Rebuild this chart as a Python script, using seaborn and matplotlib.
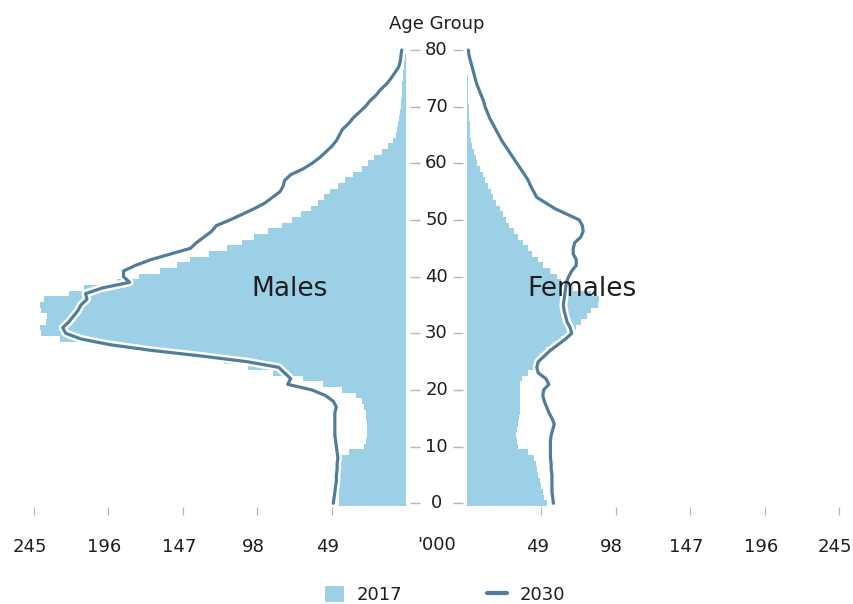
import numpy as np
import pandas as pd
import matplotlib
matplotlib.use("Agg")
import matplotlib.pyplot as plt
import matplotlib.patheffects as pe
import matplotlib.transforms as mtrans
from matplotlib.patches import Patch
from matplotlib.lines import Line2D
import seaborn as sns

# ---------------- data (thousands) ----------------
ages = list(range(0, 81))

males_2017 = [44.5, 44.5, 44, 44, 44, 44, 44, 43.5, 43, 38,
              28, 26.5, 26, 26, 26, 26.5, 26.5, 27.5, 29, 33,
              42, 55, 68, 88, 104, 120, 142, 165, 200, 228,
              240, 241, 237, 236, 240, 241, 238, 222, 212, 190,
              176, 162, 151, 142, 130, 118, 108, 100, 91, 82,
              75, 69, 63, 58, 54, 50, 45, 40, 35, 29,
              25, 21, 16, 12, 9, 7, 6, 5.2, 4.6, 4.1,
              3.7, 3.4, 3.1, 2.8, 2.5, 2.2, 2.0, 1.8, 1.2, 0.8, 0.5]

males_2030 = [48, 47.5, 47, 46.5, 46, 46, 45.5, 45.5, 45, 45.5,
              46, 46.5, 47, 47, 47, 47, 47, 46, 48, 53,
              62, 78, 76, 80, 84, 105, 135, 168, 195, 214,
              224, 226, 222, 219, 216, 214, 210, 211, 200, 182,
              186, 186, 178, 168, 155, 142, 138, 133, 128, 125,
              116, 108, 100, 93, 88, 83, 81, 80, 76, 68,
              62, 57, 53, 49, 46, 44, 42, 38, 35, 31,
              27, 24, 20, 17, 13, 10, 7.5, 5, 4, 3.5, 3]

females_2017 = [53, 51, 50, 49, 48, 47, 46, 45.5, 44, 40,
                34, 33, 32.5, 33, 34, 34.5, 35, 35, 35, 35,
                35, 35, 36, 40, 44, 46, 48, 52, 57, 62,
                66, 72, 75, 79, 82, 86, 87, 82, 70, 62,
                59, 55, 50, 47, 43, 40, 37, 34, 31, 28,
                26, 24, 22, 19.5, 17.5, 16, 14, 12, 10.5, 8.5,
                7, 5.8, 4.5, 3.6, 3, 2.4, 2, 1.8, 1.6, 1.4,
                1.2, 1, 0.9, 0.8, 0.7, 0.5, 0.3, 0, 0, 0, 0]

females_2030 = [57, 56.5, 56, 56, 56, 56, 55.5, 55.5, 55, 55,
                55, 55, 55.5, 56.5, 57.5, 56, 54, 52.5, 51, 50,
                50.5, 54, 52, 47, 46, 47, 51, 55, 60, 65,
                69, 68, 66, 65, 64, 63.5, 64, 64.5, 65, 65.5,
                67, 69, 72, 72, 70, 70, 71, 75, 76.5, 76,
                74, 66, 58, 52, 46, 44, 42, 40.4, 38, 35.5,
                33, 30.5, 28, 25.5, 23, 21, 19, 17, 15, 13.5,
                12, 11, 9.5, 8, 6.5, 5.5, 4.5, 3.5, 2.5, 1.5, 1]

x_ticks = [49, 98, 147, 196, 245]
age_ticks = [0, 10, 20, 30, 40, 50, 60, 70, 80]
series_labels = ["2017", "2030"]

BAR = "#9CD0E7"
LINE = "#4F7D9B"
TXT = "#1E1E1E"
TICK = "#B5B5B5"

sns.set_theme(style="white")
plt.rcParams["font.family"] = ["DejaVu Sans"]

W, H = 854, 604
fig = plt.figure(figsize=(W / 100, H / 100), dpi=100)

y0_px, y80_px = 503.3, 50.0
ppy = (y0_px - y80_px) / 80
ylo, yhi = -0.6, 80.6
bot = (H - (y0_px - ylo * ppy)) / H
top = (H - (y80_px - (yhi - 80) * ppy)) / H
hgt = top - bot

lz, rz = 406.3, 466.8
span = 372.5
axL = fig.add_axes([(lz - span) / W, bot, span / W, hgt])
axR = fig.add_axes([rz / W, bot, span / W, hgt])
axM = fig.add_axes([lz / W, bot, (rz - lz) / W, hgt])

dfm = pd.DataFrame({"age": ages, "v17": males_2017, "v30": males_2030})
dff = pd.DataFrame({"age": ages, "v17": females_2017, "v30": females_2030})

shift = mtrans.ScaledTranslation(-4 / 100, 0, fig.dpi_scale_trans)

for ax, df in ((axL, dfm), (axR, dff)):
    sns.barplot(data=df, x="v17", y="age", orient="h", native_scale=True,
                width=1.0, color=BAR, saturation=1, linewidth=0,
                edgecolor="none", ax=ax, zorder=1)
    sns.lineplot(data=df, x="v30", y="age", orient="y", color=LINE,
                 linewidth=2.3, ax=ax, zorder=3)
    ln = ax.lines[-1]
    ln.set_path_effects([pe.Stroke(linewidth=5.8, foreground="white"), pe.Normal()])
    ln.set_solid_joinstyle("round")
    ln.set_solid_capstyle("round")
    ax.set_ylim(ylo, yhi)
    ax.set_xlabel("")
    ax.set_ylabel("")
    for s in ax.spines.values():
        s.set_visible(False)
    ax.set_yticks([])
    ax.set_xticks(x_ticks)
    ax.set_xticklabels([str(t) for t in x_ticks])
    ax.tick_params(axis="x", bottom=True, length=5.8, width=0.9, color=TICK,
                   pad=16.5, labelsize=13, labelcolor=TXT)
    for lab in ax.get_xticklabels():
        lab.set_transform(lab.get_transform() + shift)

axL.set_xlim(245, 0)
axR.set_xlim(0, 245)

axL.text(77, 37.8, "Males", ha="center", va="center", fontsize=19, color=TXT, zorder=5)
axR.text(76, 37.8, "Females", ha="center", va="center", fontsize=19, color=TXT, zorder=5)

# middle age labels
axM.set_xlim(0, 1)
axM.set_ylim(ylo, yhi)
axM.axis("off")
axM.hlines(age_ticks, 0.06, 0.23, color=TICK, linewidth=1)
axM.hlines(age_ticks, 0.77, 0.93, color=TICK, linewidth=1)
for a in age_ticks:
    axM.text(0.5, a, str(a), ha="center", va="center", fontsize=13, color=TXT)

fig.text(436.5 / W, 1 - 24 / H, "Age Group", ha="center", va="center", fontsize=13, color=TXT)
fig.text(436.7 / W, 1 - 545.5 / H, "'000", ha="center", va="center", fontsize=13, color=TXT)

handles = [Patch(facecolor=BAR, edgecolor="none"),
           Line2D([0], [0], color=LINE, linewidth=3)]
fig.legend(handles, series_labels, loc="center", ncol=2,
           bbox_to_anchor=(445 / W, 1 - 595 / H), frameon=False,
           fontsize=13, handlelength=1.1, handleheight=1.0,
           handletextpad=0.7, columnspacing=4.7, labelcolor=TXT)

fig.savefig("out.png", dpi=100)
